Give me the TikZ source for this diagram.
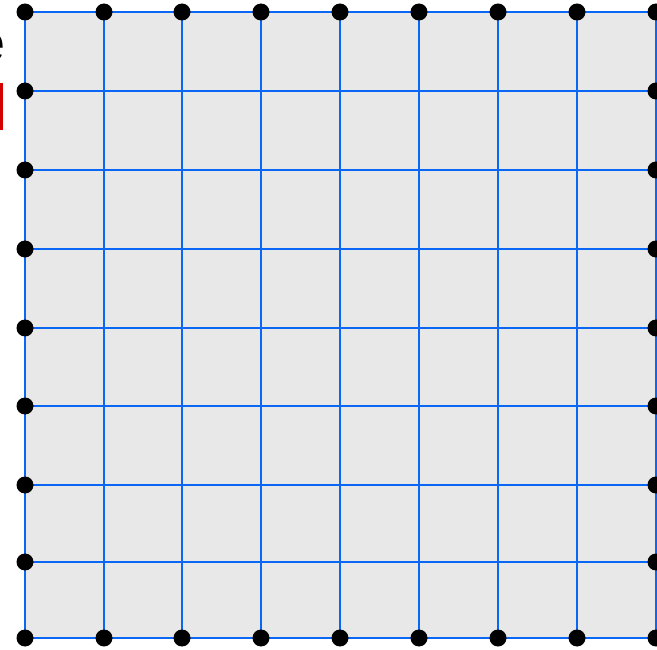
\documentclass[tikz,border=0pt]{standalone}
\usepackage{fontspec}
\setmainfont{Liberation Sans}
\definecolor{gridblue}{HTML}{0A66F5}
\definecolor{cellgray}{HTML}{E8E8E8}
\definecolor{markred}{HTML}{D40000}
\tikzset{
  gridline/.style={draw=gridblue, line width=2.6pt},
  dot/.style={circle, fill=black, inner sep=0pt, minimum size=17pt},
}
\begin{document}
\begin{tikzpicture}[x=1pt,y=-1pt]
\useasboundingbox (0,0) rectangle (657,650);
\fill[cellgray] (25,12) rectangle (656,638);
% labels partly cut off at the left margin
\node[anchor=base east, inner sep=0pt, font=\fontsize{54}{62}\selectfont] (lbl) at (6,62) {e};
\fill[markred] (-3,83) rectangle (3,130);
% grid lines
\foreach \i/\x in {0/25,1/104,2/182,3/261,4/340,5/419,6/498,7/577,8/656} {
  \coordinate (vt\i) at (\x,12);
  \coordinate (vb\i) at (\x,638);
  \draw[gridline] (vt\i) -- (vb\i);
}
\foreach \j/\y in {0/12,1/91,2/170,3/249,4/328,5/406,6/485,7/562,8/638} {
  \coordinate (hl\j) at (25,\y);
  \coordinate (hr\j) at (656,\y);
  \draw[gridline] (hl\j) -- (hr\j);
}
% boundary dots
\foreach \i/\x in {0/25,1/104,2/182,3/261,4/340,5/419,6/498,7/577,8/656} {
  \node[dot] (t\i) at (\x,12) {};
  \node[dot] (b\i) at (\x,638) {};
}
\foreach \j/\y in {1/91,2/170,3/249,4/328,5/406,6/485,7/562} {
  \node[dot] (l\j) at (25,\y) {};
  \node[dot] (r\j) at (656,\y) {};
}
\end{tikzpicture}
\end{document}
